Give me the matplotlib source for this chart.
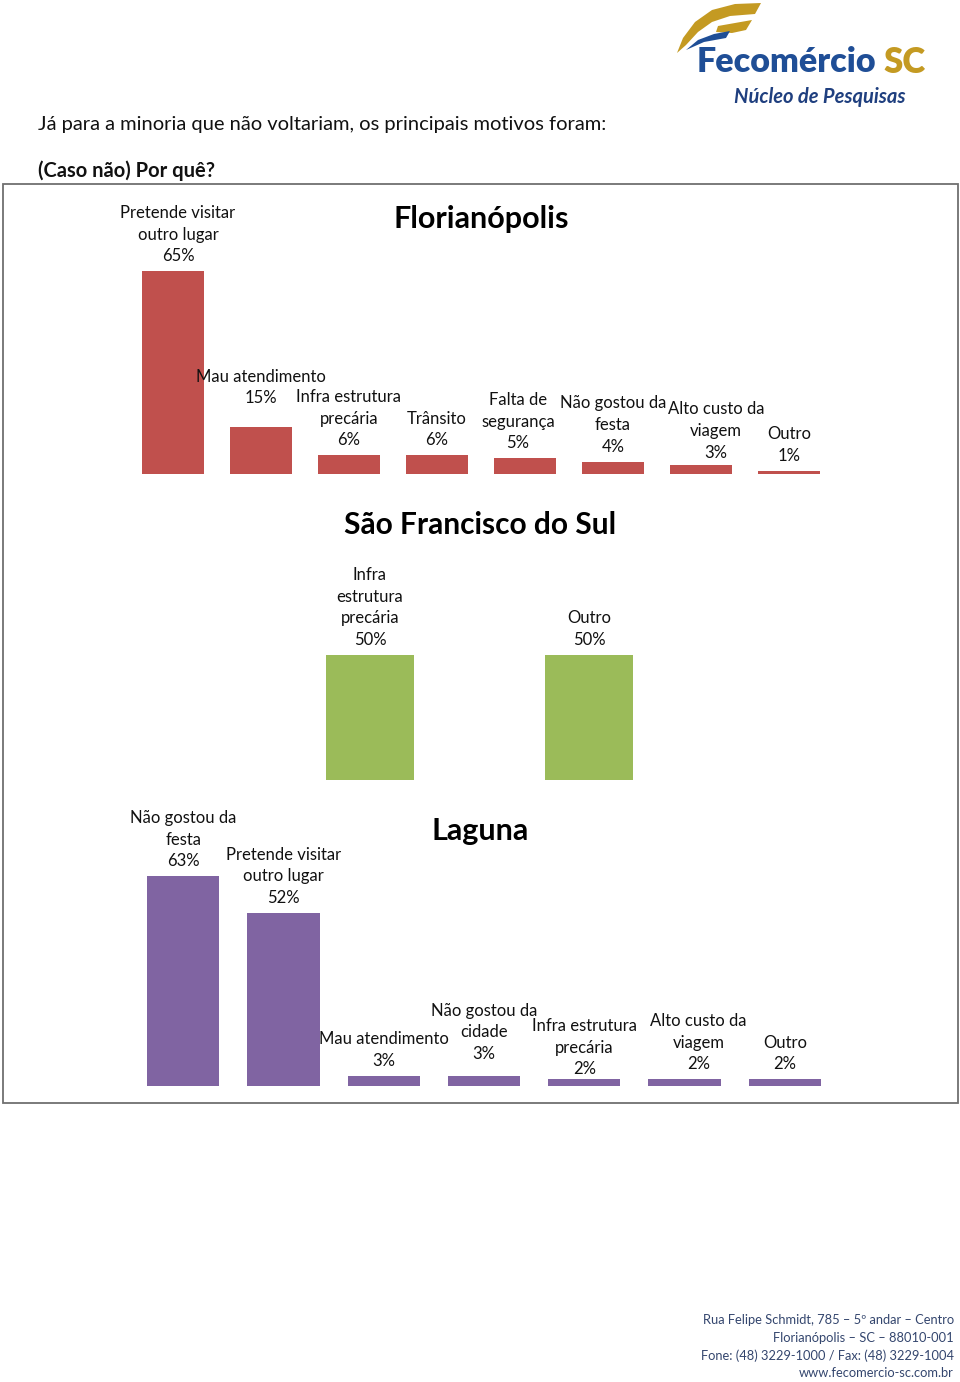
"""
Motivos de não voltar: Florianópolis, São Francisco do Sul e Laguna.
"""
import matplotlib
matplotlib.use('Agg')
import matplotlib.pyplot as plt
from matplotlib.patches import Rectangle, Polygon

plt.rcParams['font.family'] = ['Lato', 'DejaVu Sans']

# Florianópolis
flo_labels = ["Pretende visitar\noutro lugar", "Mau atendimento", "Infra estrutura\nprecária",
              "Trânsito", "Falta de\nsegurança", "Não gostou da\nfesta",
              "Alto custo da\nviagem", "Outro"]
flo_values = [65, 15, 6, 6, 5, 4, 3, 1]

# São Francisco do Sul
sfs_labels = ["Infra\nestrutura\nprecária", "Outro"]
sfs_values = [50, 50]

# Laguna
lag_labels = ["Não gostou da\nfesta", "Pretende visitar\noutro lugar", "Mau atendimento",
              "Não gostou da\ncidade", "Infra estrutura\nprecária", "Alto custo da\nviagem", "Outro"]
lag_values = [63, 52, 3, 3, 2, 2, 2]

W, H = 960, 1382
fig = plt.figure(figsize=(W / 100, H / 100), dpi=100)

bg = fig.add_axes([0, 0, 1, 1])
bg.set_xlim(0, W)
bg.set_ylim(H, 0)
bg.axis('off')


def px_axes(left, top, right, bottom):
    return fig.add_axes([left / W, 1 - bottom / H, (right - left) / W, (bottom - top) / H])


def bar_panel(left, right, top, base, px_per, labels, values, color, width,
              dy=None, dx=None):
    ax = px_axes(left, top, right, base)
    x = list(range(len(values)))
    ax.bar(x, values, width, color=color)
    ax.set_xlim(-0.5, len(values) - 0.5)
    ax.set_ylim(0, (base - top) / px_per)
    ax.axis('off')
    dy = dy or [0] * len(values)
    dx = dx or [0] * len(values)
    for i, (lab, v) in enumerate(zip(labels, values)):
        ax.annotate(f"{lab}\n{v}%", (i, v), xytext=(dx[i], 7 + dy[i]),
                    textcoords='offset pixels', ha='center', va='bottom',
                    fontsize=12, linespacing=1.43, color='#111111')
    return ax


# page text
bg.text(38, 124, "Já para a minoria que não voltariam, os principais motivos foram:",
        fontsize=14.5, va='center', ha='left', color='#111111')
bg.text(38, 171, "(Caso não) Por quê?", fontsize=14.5, fontweight='bold',
        va='center', ha='left', color='#111111')

# chart frame
bg.add_patch(Rectangle((3, 184), 955, 919, fill=False, edgecolor='#6f6f6f', lw=1.3))

# panels
bar_panel(129, 833, 190, 474, 3.12, flo_labels, flo_values, '#C0504D', 0.7,
          dy=[0, 14, 0, 0, 0, 0, -3, 0], dx=[5, 0, 0, 0, -7, 0, 15, 0])
bg.text(481, 219, "Florianópolis", fontsize=22, fontweight='bold', ha='center', va='center')

bar_panel(260.5, 698.5, 540, 780, 2.5, sfs_labels, sfs_values, '#9BBB59', 0.4)
bg.text(480, 525, "São Francisco do Sul", fontsize=21.5, fontweight='bold',
        ha='center', va='center')

bar_panel(133, 835, 800, 1086, 3.33, lag_labels, lag_values, '#8064A2', 0.72,
          dy=[0, 0, 0, 7, -5, 0, 0], dx=[0, 0, 0, 0, 0, 14, 0])
bg.text(480, 831, "Laguna", fontsize=22, fontweight='bold', ha='center', va='center')

# logo
gold = '#C49A22'
blue = '#1F4E96'
bg.add_patch(Polygon([(677, 53), (683, 38), (695, 22), (712, 10), (735, 4), (761, 3),
                      (755, 14), (730, 16), (712, 22), (698, 32), (686, 45)],
                     closed=True, color=gold, lw=0))
bg.add_patch(Polygon([(718, 26), (752, 20), (746, 30), (732, 33), (716, 32)],
                     closed=True, color=gold, lw=0))
bg.add_patch(Polygon([(686, 50), (698, 40), (714, 34), (730, 31), (726, 38), (704, 42)],
                     closed=True, color=blue, lw=0))
bg.text(697, 62, "Fecomércio", fontsize=24.5, fontweight='heavy', color=blue,
        ha='left', va='center')
bg.text(926, 62, "SC", fontsize=25, fontweight='heavy', color=gold, ha='right', va='center')
bg.text(905, 97, "Núcleo de Pesquisas", fontsize=14.5, fontweight='bold', style='italic',
        color='#1F3F7F', ha='right', va='center')

# footer
footer = ["Rua Felipe Schmidt, 785 – 5º andar – Centro",
          "Florianópolis – SC – 88010-001",
          "Fone: (48) 3229-1000 / Fax: (48) 3229-1004",
          "www.fecomercio-sc.com.br"]
for k, line in enumerate(footer):
    bg.text(954, 1320 + 17.7 * k, line, fontsize=9.3, color='#34466e', ha='right', va='center')

fig.savefig("out.png", dpi=100)
plt.close(fig)
